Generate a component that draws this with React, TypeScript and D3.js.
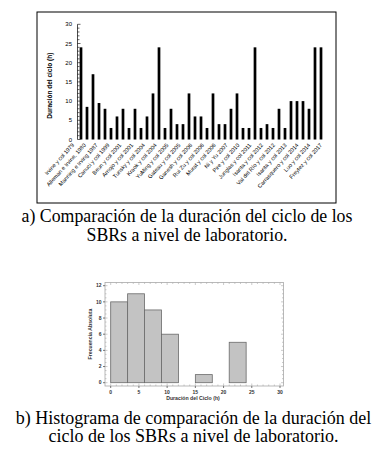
import React from 'react'
import * as d3 from 'd3'

// duración del ciclo (h) por estudio, en el orden de la figura a)
const cycleHours = [
	24, 8.5, 17, 9.5, 8, 3, 6, 8, 3, 8, 3, 6, 12, 24, 3, 8, 4, 4, 12, 6, 6, 3, 12,
	4, 4, 8, 12, 3, 3, 24, 3, 4, 3, 8, 3, 10, 10, 10, 8, 24, 24
]

const studyLabels = [
	'Irvine y col 1979',
	'Alleman e Irvine, 1980',
	'Manning e Irving 1987',
	'Canuci y col 1999',
	'Beun y col 2001',
	'Arnojo y col 2001',
	'Tunsky y col 2004',
	'Kraok y col 2004',
	'YuMing y col 2005',
	'Gateau y col 2005',
	'Ganesh y col 2006',
	'Rui Zu y col 2006',
	'Murat y col 2006',
	'Ni y Yu 2007',
	'Pire y col 2010',
	'Junglas y col 2011',
	'Isanta y col 2012',
	'Val del Río y col 2012',
	'Isanta y col 2013',
	'Carrasquero y col 2014',
	'Luo y col 2014',
	'Freytez y col 2017'
]

const yTicksA = [0, 5, 10, 15, 20, 25, 30]

// histograma: clases de 3 h
const binStarts = [0, 3, 6, 9, 12, 15, 18, 21, 24, 27]
const binCounts = [10, 11, 9, 6, 0, 1, 0, 5, 0, 0]
const binWidth = 3
const yTicksB = [0, 2, 4, 6, 8, 10, 12]
const xTicksB = [0, 5, 10, 15, 20, 25, 30]

const captionA = ['a) Comparación de la duración del ciclo de los', 'SBRs a nivel de laboratorio.']
const captionB = ['b) Histograma de comparación de la duración del', 'ciclo de los SBRs a nivel de laboratorio.']

const sans = 'Liberation Sans, Arial, sans-serif'
const serif = 'Liberation Serif, Times New Roman, serif'

const BarChart = () => {
	const x = d3
		.scaleBand<number>()
		.domain(d3.range(cycleHours.length))
		.range([78, 324])
		.paddingInner(0.55)
		.paddingOuter(0.275)
	const y = d3.scaleLinear().domain([0, 30]).range([139.5, 24.3])
	const xl = d3.scalePoint<string>().domain(studyLabels).range([73, 321])
	const minor = d3.range(0, 31, 1)

	return (
		<g>
			<rect x={37} y={12} width={299} height={191} fill="none" stroke="#000" strokeWidth={1} />
			<line x1={77.5} x2={77.5} y1={y(0)} y2={y(30)} stroke="#000" strokeWidth={0.7} />
			{minor.map(v => (
				<line
					key={v}
					x1={77.5}
					x2={v % 5 === 0 ? 80.5 : 79.5}
					y1={y(v)}
					y2={y(v)}
					stroke="#000"
					strokeWidth={0.6}
				/>
			))}
			{yTicksA.map(v => (
				<text
					key={v}
					x={72}
					y={y(v)}
					dy="0.35em"
					textAnchor="end"
					fontFamily={sans}
					fontSize={6}
				>
					{v}
				</text>
			))}
			<text
				transform={`translate(52,${y(14)}) rotate(-90)`}
				textAnchor="middle"
				fontFamily={sans}
				fontSize={6.5}
				fontWeight="bold"
			>
				Duración del ciclo (h)
			</text>
			{cycleHours.map((v, i) => (
				<rect
					key={i}
					x={x(i)}
					y={y(v)}
					width={x.bandwidth()}
					height={y(0) - y(v)}
					fill="#000"
				/>
			))}
			{studyLabels.map(l => (
				<text
					key={l}
					transform={`translate(${xl(l)},144) rotate(-48)`}
					textAnchor="end"
					dy="0.35em"
					fontFamily={sans}
					fontSize={5.6}
				>
					{l}
				</text>
			))}
		</g>
	)
}

const Histogram = () => {
	const left = 105
	const right = 283.5
	const top = 282.5
	const bottom = 386
	const x = d3.scaleLinear().domain([0, 30]).range([110.7, 280])
	const y = d3.scaleLinear().domain([0, 12]).range([382.7, 285.7])
	const frame = '#a8a8a8'

	return (
		<g>
			<rect x={left} y={top} width={right - left} height={bottom - top} fill="#fff" stroke={frame} strokeWidth={0.8} />
			{d3.range(0, 12.01, 0.5).map(v => (
				<g key={'y' + v}>
					<line x1={left} x2={left + (v % 2 === 0 ? 2.5 : 1.5)} y1={y(v)} y2={y(v)} stroke={frame} strokeWidth={0.6} />
					<line x1={right} x2={right - (v % 2 === 0 ? 2.5 : 1.5)} y1={y(v)} y2={y(v)} stroke={frame} strokeWidth={0.6} />
				</g>
			))}
			{d3.range(0, 30.01, 1).map(v => (
				<g key={'x' + v}>
					<line x1={x(v)} x2={x(v)} y1={bottom} y2={bottom - (v % 5 === 0 ? 2.5 : 1.5)} stroke={frame} strokeWidth={0.6} />
					<line x1={x(v)} x2={x(v)} y1={top} y2={top + (v % 5 === 0 ? 2.5 : 1.5)} stroke={frame} strokeWidth={0.6} />
				</g>
			))}
			{yTicksB.map(v => (
				<g key={v}>
					<line x1={left - 2} x2={left} y1={y(v)} y2={y(v)} stroke="#555" strokeWidth={0.8} />
					<text x={left - 3.5} y={y(v)} dy="0.35em" textAnchor="end" fontFamily={sans} fontSize={5} fontWeight="bold" fill="#333">
						{v}
					</text>
				</g>
			))}
			{xTicksB.map(v => (
				<g key={v}>
					<line x1={x(v)} x2={x(v)} y1={bottom} y2={bottom + 2} stroke="#555" strokeWidth={0.8} />
					<text x={x(v)} y={bottom + 7.5} textAnchor="middle" fontFamily={sans} fontSize={5} fontWeight="bold" fill="#333">
						{v}
					</text>
				</g>
			))}
			{binCounts.map((c, i) =>
				c > 0 ? (
					<rect
						key={i}
						x={x(binStarts[i])}
						y={y(c)}
						width={x(binStarts[i] + binWidth) - x(binStarts[i])}
						height={y(0) - y(c)}
						fill="#c3c3c3"
						stroke="#6a6a6a"
						strokeWidth={0.8}
					/>
				) : null
			)}
			<text x={193} y={400} textAnchor="middle" fontFamily={sans} fontSize={5.2} fontWeight="bold" fill="#333">
				Duración del Ciclo (h)
			</text>
			<text
				transform={`translate(91.5,334) rotate(-90)`}
				textAnchor="middle"
				fontFamily={sans}
				fontSize={5.2}
				fontWeight="bold"
				fill="#333"
			>
				Frecuencia Absoluta
			</text>
		</g>
	)
}

const App = () => {
	return (
		<svg
			width={384}
			height={462}
			style={{ position: 'absolute', left: 0, top: 0, background: '#fff' }}
		>
			<rect width={384} height={462} fill="#fff" />
			<BarChart />
			{captionA.map((t, i) => (
				<text key={t} x={187} y={222 + i * 18.5} textAnchor="middle" fontFamily={serif} fontSize={17.8}>
					{t}
				</text>
			))}
			<Histogram />
			{captionB.map((t, i) => (
				<text key={t} x={193.5} y={423.5 + i * 18.5} textAnchor="middle" fontFamily={serif} fontSize={18}>
					{t}
				</text>
			))}
		</svg>
	)
}

export default App
